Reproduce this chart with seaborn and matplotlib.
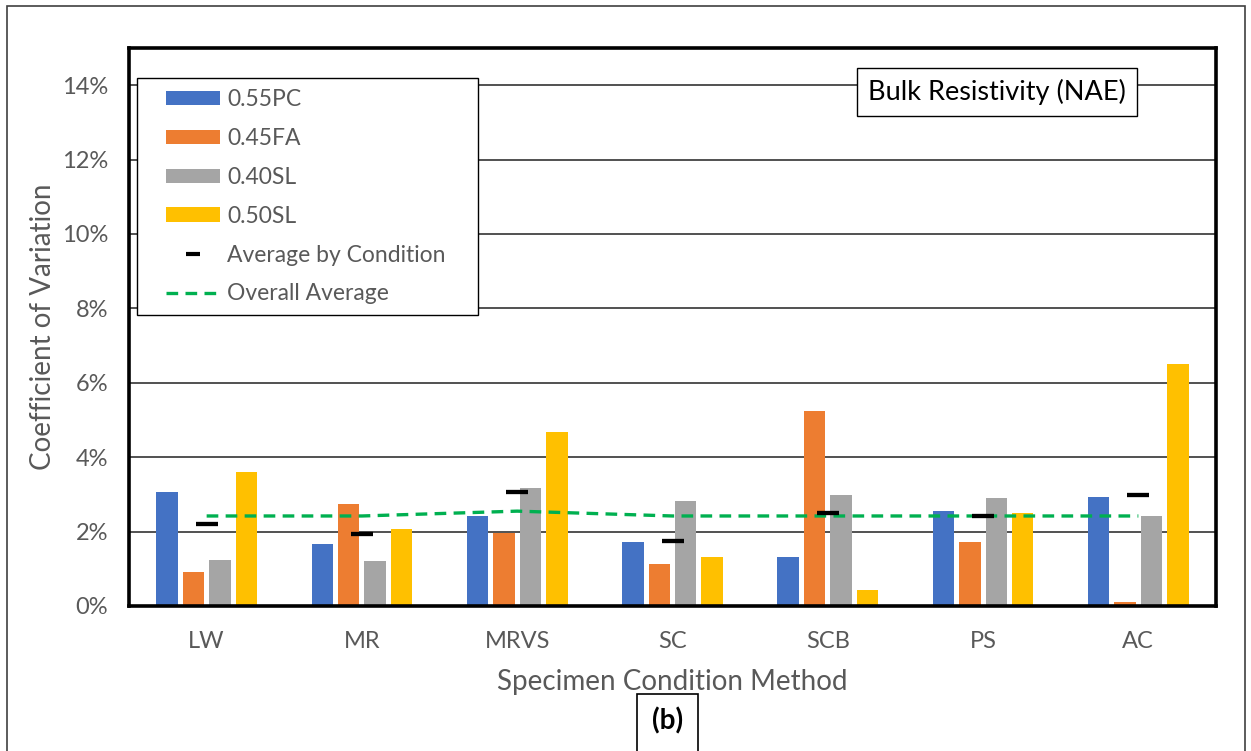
import numpy as np
import pandas as pd
import matplotlib
matplotlib.use("Agg")
import matplotlib.pyplot as plt
import seaborn as sns
from matplotlib.patches import Patch, Rectangle
from matplotlib.lines import Line2D
from matplotlib.legend_handler import HandlerPatch, HandlerLine2D
from matplotlib.ticker import FuncFormatter, FixedLocator

# ---------------- data (coefficient of variation, %) ----------------
conditions = ["LW", "MR", "MRVS", "SC", "SCB", "PS", "AC"]
mixes = ["0.55PC", "0.45FA", "0.40SL", "0.50SL"]
cv_055pc = [3.07, 1.68, 2.42, 1.73, 1.33, 2.55, 2.94]
cv_045fa = [0.91, 2.73, 1.95, 1.12, 5.24, 1.72, 0.12]
cv_040sl = [1.25, 1.21, 3.16, 2.82, 2.98, 2.90, 2.42]
cv_050sl = [3.59, 2.07, 4.68, 1.33, 0.42, 2.51, 6.50]
overall_avg = [2.42, 2.42, 2.55, 2.42, 2.42, 2.42, 2.42]
y_ticks = [0, 2, 4, 6, 8, 10, 12, 14]
y_max = 15

series = {"0.55PC": cv_055pc, "0.45FA": cv_045fa, "0.40SL": cv_040sl, "0.50SL": cv_050sl}
df = pd.DataFrame(
    [(c, m, v) for m in mixes for c, v in zip(conditions, series[m])],
    columns=["condition", "mix", "cv"],
)

# ---------------- style ----------------
colors = ["#4472C4", "#ED7D31", "#A5A5A5", "#FFC000"]
green = "#00B050"
txt_gray = "#595959"

sns.set_theme(style="white")
plt.rcParams["font.family"] = ["Lato", "DejaVu Sans"]

W, H = 1251, 751
fig = plt.figure(figsize=(W / 100, H / 100), dpi=100)
ax_l, ax_r, ax_t, ax_b = 129, 1216, 48, 606
ax = fig.add_axes([ax_l / W, 1 - ax_b / H, (ax_r - ax_l) / W, (ax_b - ax_t) / H])

# bars
sns.barplot(data=df, x="condition", y="cv", hue="mix", order=conditions,
            hue_order=mixes, palette=colors, saturation=1, width=0.68, gap=0.19,
            errorbar=None, legend=False, ax=ax, zorder=2, linewidth=0)

# average by condition (mean of the four mixes)
sns.pointplot(data=df, x="condition", y="cv", order=conditions,
              estimator="mean", errorbar=None, color="black",
              marker="_", markersize=16.5, markeredgewidth=3.1,
              linestyle="none", ax=ax, zorder=4)

# overall average dashed line
sns.pointplot(x=conditions, y=overall_avg, order=conditions, errorbar=None,
              color=green, marker="", linestyle="--", linewidth=2.4,
              ax=ax, zorder=3)
ax.lines[-1].set_dashes((3.5, 2.2))

# axes formatting
ax.set_xlim(-0.5, len(conditions) - 0.5)
ax.set_ylim(0, y_max)
ax.yaxis.set_major_locator(FixedLocator(y_ticks))
ax.yaxis.set_major_formatter(FuncFormatter(lambda v, p: f"{v:.0f}%"))
ax.grid(axis="y", color="#333333", linewidth=1.2)
ax.grid(axis="x", visible=False)
ax.set_axisbelow(True)
for s in ax.spines.values():
    s.set_visible(True)
    s.set_color("black")
    s.set_linewidth(2.6)
    s.set_zorder(6)
ax.tick_params(axis="both", length=0, labelsize=17, labelcolor=txt_gray)
ax.tick_params(axis="y", pad=15)
ax.tick_params(axis="x", pad=18)
ax.set_xlabel("Specimen Condition Method", fontsize=20, color=txt_gray, labelpad=12)
ax.set_ylabel("Coefficient of Variation", fontsize=20, color=txt_gray, labelpad=4)

# legend
fs_leg = 16.5
fs_px = fs_leg * 100 / 72
handles = [Patch(facecolor=c, edgecolor="none") for c in colors]
handles.append(Line2D([], [], color="black", marker="_", linestyle="none",
                      markersize=10, markeredgewidth=3))
handles.append(Line2D([], [], color=green, linestyle=(0, (3.5, 2.2)), linewidth=2.4))
labels = mixes + ["Average by Condition", "Overall Average"]
bpad_px = 11.0
bpad = bpad_px / fs_px
hstart = 137 + bpad_px
xpad = (166 - hstart) / fs_px
hlen = (220 - hstart) / fs_px
hmap = {h: (HandlerPatch(xpad=xpad) if isinstance(h, Patch) else HandlerLine2D(xpad=xpad))
        for h in handles}
leg_x0 = (137 - ax_l) / (ax_r - ax_l)
leg_w = (478 - 137) / (ax_r - ax_l)
leg_top = (ax_b - 78) / (ax_b - ax_t)
leg = ax.legend(handles, labels, handler_map=hmap, loc="upper left",
                bbox_to_anchor=(leg_x0, 0, leg_w, leg_top), mode="expand",
                borderaxespad=0, fontsize=fs_leg, frameon=True, fancybox=False,
                edgecolor="black", facecolor="white", framealpha=1,
                handlelength=hlen, handleheight=13 / fs_px, handletextpad=7 / fs_px,
                labelspacing=0.78, borderpad=bpad)
leg.get_frame().set_linewidth(1.0)
for t in leg.get_texts():
    t.set_color(txt_gray)
leg.set_zorder(7)

# chart label box
ax.text((997 - ax_l) / (ax_r - ax_l), (ax_b - 92) / (ax_b - ax_t),
        "Bulk Resistivity (NAE)", transform=ax.transAxes, ha="center", va="center",
        fontsize=19.5, color="black", zorder=8,
        bbox=dict(boxstyle="square,pad=0.42", facecolor="white", edgecolor="black",
                  linewidth=1.0))

# figure border
fig.patches.append(Rectangle((7 / W, -0.05), (1245 - 7) / W, 1.05 - 6 / H,
                             transform=fig.transFigure, fill=False,
                             edgecolor="#404040", linewidth=1.2))
# (b) panel tag box
fig.patches.append(Rectangle((637 / W, -0.05), 61 / W, (H - 694) / H + 0.05,
                             transform=fig.transFigure, facecolor="white",
                             edgecolor="black", linewidth=1.2))
fig.text(667.5 / W, 1 - 721 / H, "(b)", ha="center", va="center",
         fontsize=20, fontweight="bold", color="black")

fig.savefig("out.png", dpi=100)
